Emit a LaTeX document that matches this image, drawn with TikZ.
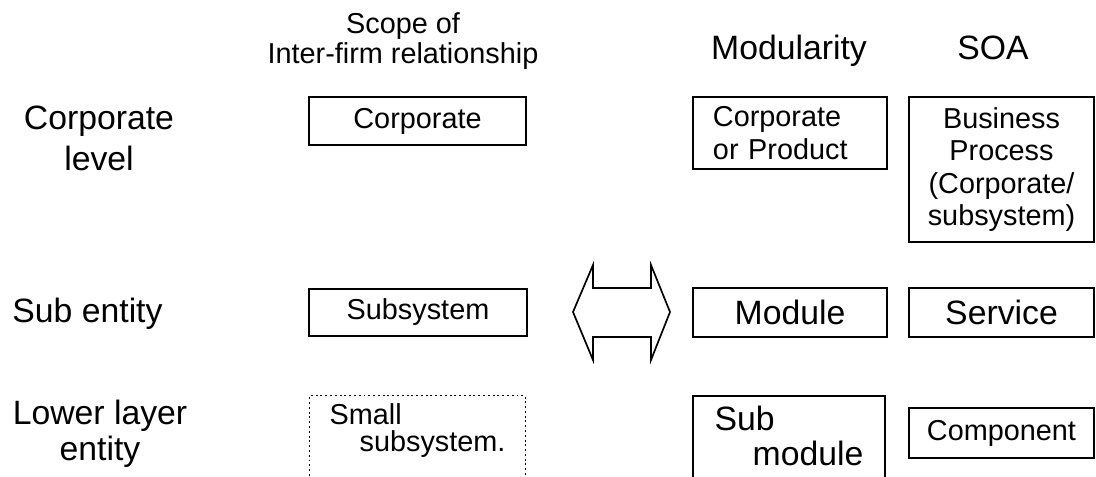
\documentclass[tikz,border=0pt]{standalone}
\usepackage{fontspec}
\setmainfont{Liberation Sans}
\usetikzlibrary{positioning}

\begin{document}
\begin{tikzpicture}[
  x=0.025cm, y=-0.025cm,
  bigtxt/.style={font=\fontsize{24}{29}\selectfont},
  smalltxt/.style={font=\fontsize{20.5}{23.5}\selectfont},
  box/.style={draw, line width=1.4pt, inner sep=2pt, align=center},
  lbl/.style={align=center, inner sep=0pt},
]
\useasboundingbox (0,0) rectangle (1096,477);
\clip (0,0) rectangle (1096,477);

% Column headings
\node[lbl, font=\fontsize{20.5}{21.3}\selectfont] (scopehead) at (403,41) {Scope of\\Inter-firm relationship};
\node[lbl, bigtxt, anchor=base] (modhead) at (789,60) {Modularity};
\node[lbl, bigtxt, anchor=base] (soahead) at (993,60) {SOA};

% Row labels
\node[lbl, font=\fontsize{24}{29}\selectfont] (corplvl) at (99,138) {Corporate\\level};
\node[lbl, bigtxt, anchor=base] (subent) at (87.5,323) {Sub entity};
\node[lbl, font=\fontsize{24}{25.5}\selectfont] (lowent) at (100,434) {Lower layer\\entity};

% Scope column
\node[box, smalltxt, minimum width=5.425cm, minimum height=1.2cm] (corpscope) at (417.5,121) {Corporate};
\node[box, smalltxt, minimum width=5.45cm, minimum height=1.175cm] (subsys) at (418,312.5) {Subsystem};
\node[box, dotted, line width=0.7pt, align=left, anchor=north, inner sep=6pt,
  minimum width=5.375cm, text depth=3cm, font=\fontsize{20.5}{19.2}\selectfont] (smallsys) at (417.5,395)
  {Small\\\hspace*{0.75cm}subsystem.};

% Modularity column
\node[box, smalltxt, align=left, text width=3.85cm, minimum width=4.85cm, minimum height=1.8cm] (corpprod) at (790,133)
  {Corporate\\or Product};
\node[box, bigtxt, minimum width=4.85cm, minimum height=1.225cm] (module) at (790,312.5) {Module};
\node[box, align=left, anchor=north, inner sep=7pt, minimum width=4.8cm, text depth=3cm,
  font=\fontsize{24}{24.9}\selectfont] (submod) at (789,395) {Sub\\\hspace*{0.95cm}module};

% SOA column
\node[box, minimum width=4.625cm, minimum height=3.625cm, font=\fontsize{20.5}{23}\selectfont] (bizproc) at (1001.5,169.5)
  {Business\\Process\\(Corporate/\\subsystem)};
\node[box, bigtxt, minimum width=4.625cm, minimum height=1.225cm] (service) at (1001.5,312.5) {Service};
\node[box, smalltxt, minimum width=4.625cm, minimum height=1.25cm] (component) at (1001.5,433) {Component};

% Double arrow between the columns
\draw[line width=1.2pt] (573,312) -- (593,265) -- (593,288) -- (651,288) -- (651,265) -- (670,312)
  -- (651,360) -- (651,337) -- (593,337) -- (593,360) -- cycle;

\end{tikzpicture}
\end{document}
